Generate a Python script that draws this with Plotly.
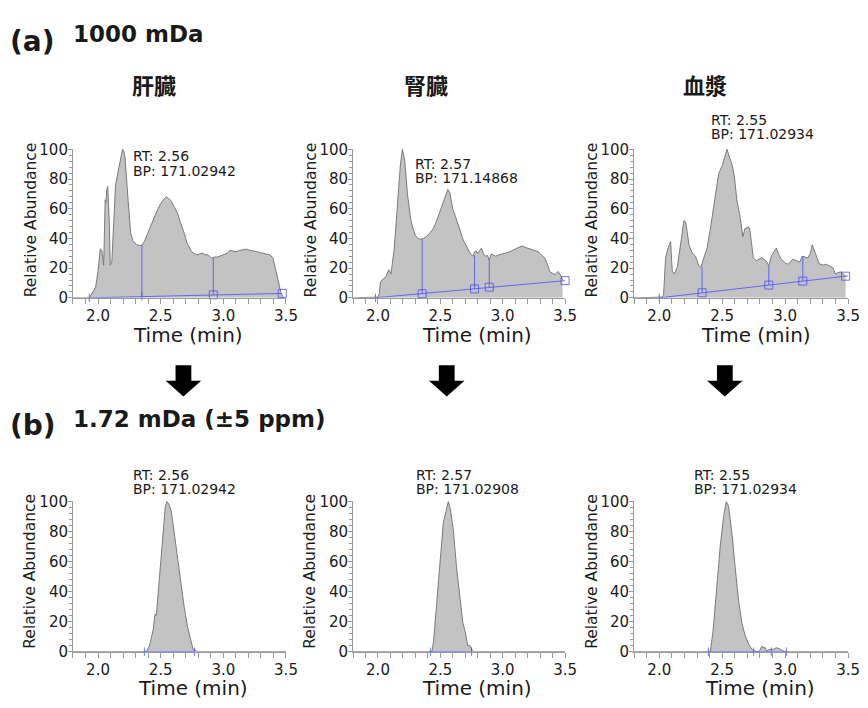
import plotly.graph_objects as go

W, H = 868, 708

# ---------------- data ----------------
liver_1000_t = [1.80, 1.93, 1.98, 2.00, 2.018, 2.03, 2.045, 2.057, 2.063, 2.07, 2.078, 2.09, 2.097, 2.11, 2.125,
                2.14, 2.16, 2.18, 2.196, 2.205, 2.215, 2.24, 2.26, 2.28, 2.306, 2.33, 2.35, 2.37, 2.398, 2.42,
                2.45, 2.475, 2.5, 2.525, 2.548, 2.565, 2.58, 2.61, 2.635, 2.66, 2.687, 2.71, 2.74, 2.76, 2.79,
                2.81, 2.83, 2.85, 2.87, 2.89, 2.905, 2.93, 2.95, 2.975, 3.0, 3.03, 3.054, 3.08, 3.1, 3.13, 3.16,
                3.186, 3.21, 3.24, 3.265, 3.29, 3.32, 3.345, 3.37, 3.395, 3.415, 3.435, 3.461, 3.475]
liver_1000_y = [0, 0, 6.8, 18, 33, 32, 22, 66, 64, 73, 75, 50, 22, 24, 50,
                76, 85, 94, 100, 99, 95, 65.6, 43.8, 38, 36, 35.2, 35.5, 38, 43.8, 49,
                55, 59.5, 63.4, 66.5, 68, 67, 65.6, 61, 56.8, 50, 43.8, 37, 32, 30, 28.9,
                29.5, 30.3, 29.2, 29, 28, 26.8, 27.5, 27.4, 28.2, 28.8, 30, 32, 31.3, 31, 32, 32.3,
                32.8, 32, 31.8, 31.2, 30.5, 30.2, 29.5, 29, 27, 20, 13, 3, 1]

kidney_1000_t = [1.8, 1.97, 2.0, 2.01, 2.02, 2.04, 2.065, 2.086, 2.104, 2.13, 2.157, 2.18, 2.196, 2.215, 2.236,
                 2.262, 2.28, 2.3, 2.32, 2.34, 2.365, 2.39, 2.42, 2.446, 2.475, 2.5, 2.52, 2.538, 2.56, 2.575,
                 2.6, 2.62, 2.64, 2.66, 2.68, 2.7, 2.72, 2.74, 2.76, 2.775, 2.787, 2.8, 2.81, 2.83, 2.845,
                 2.86, 2.879, 2.89, 2.91, 2.944, 2.97, 3.0, 3.04, 3.075, 3.11, 3.154, 3.18, 3.22, 3.25, 3.286,
                 3.31, 3.34, 3.36, 3.377, 3.40, 3.42, 3.443, 3.46, 3.47, 3.48]
kidney_1000_y = [0, 0, 0.5, 2.6, 11, 12.5, 14.5, 19, 16, 33, 64, 90, 100, 92, 70,
                 53, 47, 42, 40, 39.4, 40, 41.5, 44, 47, 53, 59, 64, 68, 73, 71,
                 59.6, 55, 50.6, 45, 39.7, 36, 33, 30, 28, 31, 31.6, 30, 31, 33.5, 30,
                 28, 28.5, 25.4, 29.6, 28, 29, 29.6, 30.5, 31.8, 33, 35, 34, 33, 32, 31,
                 29, 26.5, 22, 17.8, 16.5, 15.6, 17.8, 16, 14.5, 12]

plasma_1000_t = [1.8, 2.0, 2.02, 2.034, 2.05, 2.07, 2.09, 2.103, 2.12, 2.144, 2.17, 2.196, 2.21, 2.236, 2.262,
                 2.288, 2.314, 2.33, 2.354, 2.38, 2.406, 2.425, 2.445, 2.472, 2.5, 2.52, 2.538, 2.56, 2.577,
                 2.596, 2.616, 2.643, 2.664, 2.68, 2.695, 2.71, 2.72, 2.735, 2.747, 2.77, 2.79, 2.813, 2.83,
                 2.85, 2.87, 2.89, 2.91, 2.93, 2.95, 2.97, 3.0, 3.02, 3.04, 3.06, 3.09, 3.115, 3.135, 3.16,
                 3.18, 3.2, 3.215, 3.24, 3.27, 3.3, 3.325, 3.35, 3.377, 3.4, 3.42, 3.445, 3.47, 3.48]
plasma_1000_y = [0, 0, 0.5, 2, 27, 33.5, 38, 18, 16, 21, 35.7, 52, 51, 35.7, 30,
                 28, 21.6, 20.5, 27, 33.5, 46.6, 58, 68.6, 83.7, 89, 94, 100, 94, 90,
                 82, 66, 54, 41, 46.6, 47, 47.7, 45.5, 35, 27, 25, 26, 27, 26,
                 24.8, 21.6, 28, 31, 33.5, 29, 26, 23.5, 22.7, 24, 26, 25, 24, 28, 27.5,
                 27, 30, 35.7, 30, 23, 22, 22.7, 21.5, 20.5, 16, 17, 17.5, 15.6, 14.5]

liver_172_t = [1.8, 2.385, 2.41, 2.44, 2.455, 2.465, 2.49, 2.516, 2.537, 2.55, 2.567, 2.585, 2.608, 2.634,
               2.66, 2.687, 2.713, 2.74, 2.76, 2.78, 2.79, 3.5]
liver_172_y = [0, 0, 3.7, 14.5, 25, 24, 49, 75, 96.8, 100, 98, 93.5, 79, 62,
               45, 30, 17, 7.6, 1, 0.8, 0, 0]

kidney_172_t = [1.8, 2.432, 2.445, 2.47, 2.497, 2.524, 2.545, 2.564, 2.58, 2.603, 2.63, 2.656, 2.68, 2.70,
                2.72, 2.74, 2.757, 2.77, 3.5]
kidney_172_y = [0, 0, 6.5, 32, 64.5, 86, 93.5, 100, 95, 82, 56, 37, 19.4, 13,
                3.9, 4, 0.5, 0, 0]

plasma_172_t = [1.8, 2.406, 2.428, 2.459, 2.485, 2.511, 2.532, 2.55, 2.577, 2.603, 2.63, 2.656, 2.682, 2.71,
                2.735, 2.76, 2.787, 2.80, 2.813, 2.84, 2.855, 2.87, 2.905, 2.93, 2.955, 2.984, 3.005, 3.5]
plasma_172_y = [0, 0, 14.5, 45, 71, 90, 100, 97, 79, 56, 34, 19, 10.8, 5,
                1.5, 0.3, 0, 1, 3.5, 2.6, 0.3, 1.5, 1.5, 2.6, 2, 0.5, 0, 0]

# integration baselines (blue), split lines and markers
liver_1000_base_t = [1.93, 3.47]
liver_1000_base_y = [0, 3.0]
liver_1000_split_t = [2.35, 2.92]
liver_1000_split_lo = [1.0, 2.0]
liver_1000_split_hi = [35.5, 27.0]
liver_1000_sq_t = [2.92, 3.47]
liver_1000_sq_y = [2.0, 3.0]
liver_1000_tick_t = [1.93, 2.35]
liver_1000_tick_y = [0, 1.0]

kidney_1000_base_t = [1.97, 3.5]
kidney_1000_base_y = [0, 11.6]
kidney_1000_split_t = [2.354, 2.774, 2.892]
kidney_1000_split_lo = [2.8, 6.0, 7.2]
kidney_1000_split_hi = [39.4, 28.5, 25.4]
kidney_1000_sq_t = [2.354, 2.774, 2.892, 3.5]
kidney_1000_sq_y = [2.8, 6.0, 7.2, 11.6]
kidney_1000_tick_t = [1.98]
kidney_1000_tick_y = [0]

plasma_1000_base_t = [2.0, 3.5]
plasma_1000_base_y = [0, 14.8]
plasma_1000_split_t = [2.34, 2.87, 3.14]
plasma_1000_split_lo = [3.4, 8.6, 11.3]
plasma_1000_split_hi = [20.5, 21.6, 28.0]
plasma_1000_sq_t = [2.34, 2.87, 3.14, 3.48]
plasma_1000_sq_y = [3.4, 8.6, 11.3, 14.6]
plasma_1000_tick_t = [2.0]
plasma_1000_tick_y = [0]

liver_172_base_t = [2.37, 2.77]
kidney_172_base_t = [2.42, 2.75]
plasma_172_base_t = [2.39, 3.01]
plasma_172_tick_t = [2.39, 2.75, 2.89, 3.01]

rt_labels = ["RT: 2.56", "RT: 2.57", "RT: 2.55", "RT: 2.56", "RT: 2.57", "RT: 2.55"]
bp_labels = ["BP: 171.02942", "BP: 171.14868", "BP: 171.02934",
             "BP: 171.02942", "BP: 171.02908", "BP: 171.02934"]
tissue_labels = ["肝臓", "腎臓", "血漿"]
x_ticks = [2.0, 2.5, 3.0, 3.5]
y_ticks = [0, 20, 40, 60, 80, 100]

# ---------------- layout helpers ----------------
def px(x):
    return x / W

def py(y):
    return 1 - y / H

FILL = "#c3c3c3"
OUTLINE = "#7a7a7a"
BLUE = "rgba(70,70,255,0.75)"
AXC = "#9a9a9a"
TXT = "#1a1a1a"
FONT = "DejaVu Sans"

xdoms = [(74, 290), (358, 573), (643, 860)]
ydoms = [(144, 297), (505, 659.5)]

fig = go.Figure()

panels = [
    (liver_1000_t, liver_1000_y), (kidney_1000_t, kidney_1000_y), (plasma_1000_t, plasma_1000_y),
    (liver_172_t, liver_172_y), (kidney_172_t, kidney_172_y), (plasma_172_t, plasma_172_y),
]

layout_axes = {}
for i, (tt, yy) in enumerate(panels):
    row, col = divmod(i, 3)
    n = i + 1
    xa = "x" if n == 1 else f"x{n}"
    ya = "y" if n == 1 else f"y{n}"
    xk = "xaxis" if n == 1 else f"xaxis{n}"
    yk = "yaxis" if n == 1 else f"yaxis{n}"
    x0, x1 = xdoms[col]
    ytop, ybot = ydoms[row]
    layout_axes[xk] = dict(
        domain=[px(x0), px(x1)], anchor=ya, range=[1.8, 3.5],
        tickvals=x_ticks, ticktext=[f"{v:.1f}" for v in x_ticks],
        showline=True, linecolor=AXC, linewidth=1, ticks="outside", ticklen=5,
        tickcolor=AXC, showgrid=False, zeroline=False,
        tickfont=dict(family=FONT, size=15, color=TXT), ticklabelstandoff=-1,
        minor=dict(dtick=0.1, tick0=1.8, ticks="outside", ticklen=5, tickcolor=AXC, showgrid=False),
        fixedrange=True,
    )
    layout_axes[yk] = dict(
        domain=[py(ybot), py(ytop)], anchor=xa, range=[0, 100.5],
        tickvals=y_ticks, showline=True, linecolor=AXC, linewidth=1,
        ticks="outside", ticklen=4, tickcolor=AXC, showgrid=False, zeroline=False,
        tickfont=dict(family=FONT, size=15, color=TXT), ticklabelstandoff=-3,
        minor=dict(dtick=4, tick0=0, ticks="outside", ticklen=3, tickcolor=AXC, showgrid=False),
        fixedrange=True,
    )
    fig.add_trace(go.Scatter(
        x=tt, y=yy, mode="lines", fill="tozeroy", fillcolor=FILL,
        line=dict(color=OUTLINE, width=1), xaxis=xa, yaxis=ya,
        showlegend=False, hoverinfo="skip"))

def blue_line(xs, ys, n):
    xa = "x" if n == 1 else f"x{n}"
    ya = "y" if n == 1 else f"y{n}"
    fig.add_trace(go.Scatter(x=xs, y=ys, mode="lines", line=dict(color=BLUE, width=1),
                             xaxis=xa, yaxis=ya, showlegend=False, hoverinfo="skip"))

def blue_marks(xs, ys, n, symbol, size):
    xa = "x" if n == 1 else f"x{n}"
    ya = "y" if n == 1 else f"y{n}"
    fig.add_trace(go.Scatter(x=xs, y=ys, mode="markers",
                             marker=dict(symbol=symbol, size=size, color=BLUE,
                                         line=dict(color=BLUE, width=1)),
                             xaxis=xa, yaxis=ya, showlegend=False, hoverinfo="skip", cliponaxis=False))

top_sets = [
    (liver_1000_base_t, liver_1000_base_y, liver_1000_split_t, liver_1000_split_lo, liver_1000_split_hi,
     liver_1000_sq_t, liver_1000_sq_y, liver_1000_tick_t, liver_1000_tick_y),
    (kidney_1000_base_t, kidney_1000_base_y, kidney_1000_split_t, kidney_1000_split_lo, kidney_1000_split_hi,
     kidney_1000_sq_t, kidney_1000_sq_y, kidney_1000_tick_t, kidney_1000_tick_y),
    (plasma_1000_base_t, plasma_1000_base_y, plasma_1000_split_t, plasma_1000_split_lo, plasma_1000_split_hi,
     plasma_1000_sq_t, plasma_1000_sq_y, plasma_1000_tick_t, plasma_1000_tick_y),
]
for k, (bt, by, st, slo, shi, sqt, sqy, tkt, tky) in enumerate(top_sets):
    n = k + 1
    blue_line(bt, by, n)
    for t, lo, hi in zip(st, slo, shi):
        blue_line([t, t], [lo, hi], n)
    blue_marks(sqt, sqy, n, "square-open", 8)
    blue_marks(tkt, tky, n, "line-ns-open", 6)

bottom_sets = [(liver_172_base_t, liver_172_base_t), (kidney_172_base_t, kidney_172_base_t),
               (plasma_172_base_t, plasma_172_tick_t)]
for k, (bt, tk) in enumerate(bottom_sets):
    n = k + 4
    blue_line(bt, [0] * len(bt), n)
    blue_marks(tk, [0] * len(tk), n, "line-ns-open", 6)

# ---------------- annotations ----------------
ann = []
def text(x, y, s, size, xanchor="left", bold=False, family=FONT, angle=0, color=TXT):
    ann.append(dict(x=px(x), y=py(y), xref="paper", yref="paper", text=(f"<b>{s}</b>" if bold else s),
                    showarrow=False, xanchor=xanchor, yanchor="middle", textangle=angle,
                    font=dict(family=family, size=size, color=color)))

text(8, 34, "(a)", 28, bold=True)
text(72, 27, "1000 mDa", 23, bold=True)
text(8, 428, "(b)", 28, bold=True)
text(72, 421, "1.72 mDa (±5 ppm)", 23, bold=True)

for lab, cx in zip(tissue_labels, [156, 432, 715]):
    text(cx, 78, lab, 22, xanchor="center", bold=True, family="Noto Sans CJK JP")

rt_pos = [(133, 152), (419, 160), (719, 115), (133, 478), (420, 478), (702, 478)]
for (x, y), rt, bp in zip(rt_pos, rt_labels, bp_labels):
    text(x, y, rt, 14)
    text(x, y + 14.5, bp, 14)

for cx in [31, 315, 600]:
    for cy in [217, 577]:
        text(cx, cy, "Relative Abundance", 15.5, xanchor="center", angle=-90)

for cx, cy in [(191, 335), (484, 335), (767, 335), (196, 697), (484, 697), (771, 697)]:
    text(cx, cy, "Time (min)", 20, xanchor="center")

# ---------------- arrows ----------------
shapes = []
for cx in [186, 453, 735]:
    top, mid, tip = 366, 382, 398
    sw, hw = 8, 18
    pts = [(cx - sw, top), (cx + sw, top), (cx + sw, mid), (cx + hw, mid), (cx, tip),
           (cx - hw, mid), (cx - sw, mid)]
    path = "M " + " L ".join(f"{px(a):.5f},{py(b):.5f}" for a, b in pts) + " Z"
    shapes.append(dict(type="path", xref="paper", yref="paper", path=path,
                       fillcolor="black", line=dict(width=0)))

fig.update_layout(
    width=W, height=H, margin=dict(l=0, r=0, t=0, b=0),
    paper_bgcolor="white", plot_bgcolor="white",
    annotations=ann, shapes=shapes, showlegend=False,
    **layout_axes,
)

fig.write_html("out.html")
